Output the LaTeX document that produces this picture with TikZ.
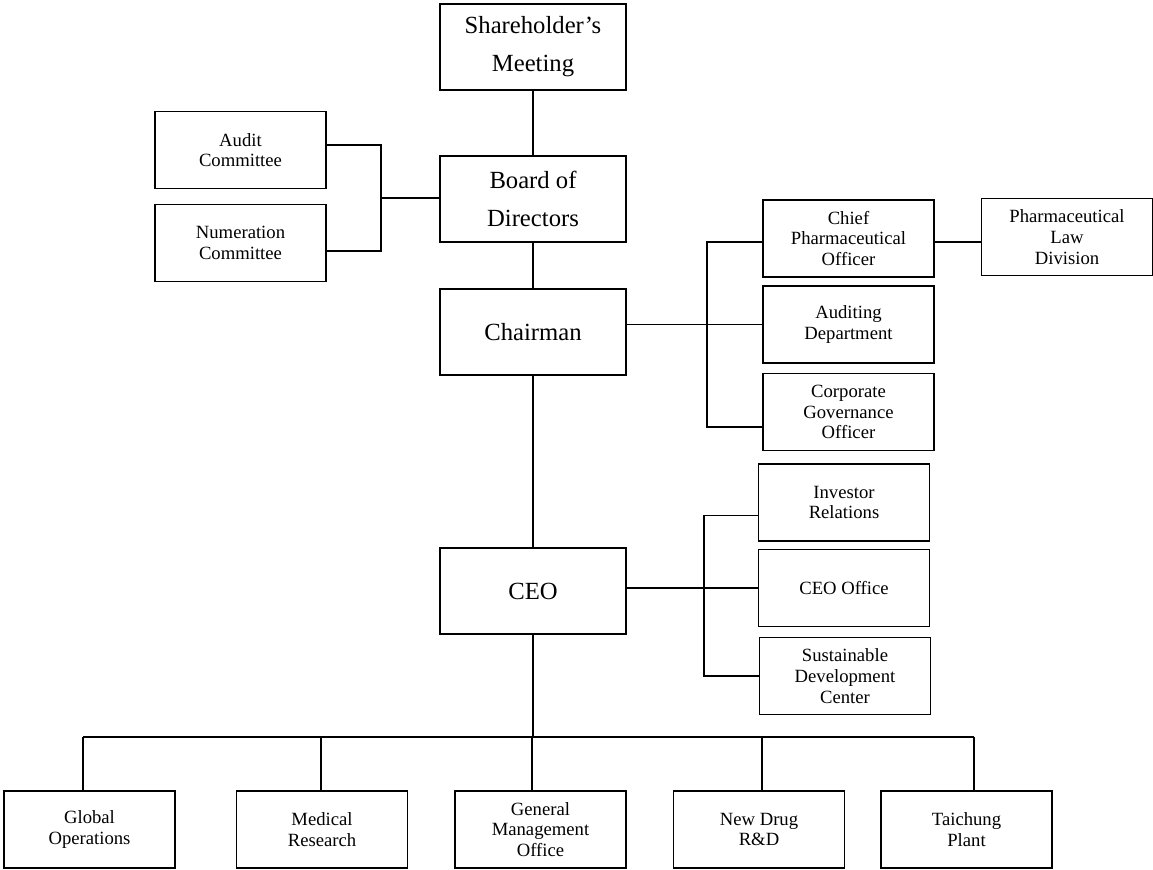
\documentclass[tikz,border=0pt]{standalone}
\usepackage{fontspec}
\setmainfont{Liberation Serif}

\begin{document}
\begin{tikzpicture}[x=0.75pt,y=-0.75pt,line width=0.9pt,
  bigbox/.style={draw,align=center,inner sep=0pt,minimum width=139.5pt,minimum height=64.5pt,font=\fontsize{18.5}{28.5}\selectfont},
  smallbox/.style={draw,align=center,inner sep=0pt,minimum width=128.25pt,minimum height=57.75pt,font=\fontsize{14}{15.5}\selectfont}]
\useasboundingbox (0,0) rectangle (1153,869);

% main line
\node [bigbox] (share) at (533,47) {Shareholder’s\\Meeting};
\node [bigbox] (board) at (533,199) {Board of\\Directors};
\node [bigbox] (chair) at (533,332) {Chairman};
\node [bigbox] (ceo) at (533,591) {CEO};

% committees
\node [smallbox] (audit) at (240.5,150) {Audit\\Committee};
\node [smallbox] (numer) at (240.5,243) {Numeration\\Committee};

% under the chairman
\node [smallbox] (cpo) at (848.5,238.5) {Chief\\Pharmaceutical\\Officer};
\node [smallbox] (aud) at (848.5,324.5) {Auditing\\Department};
\node [smallbox] (cgo) at (848.5,412) {Corporate\\Governance\\Officer};
\node [smallbox] (law) at (1067,237) {Pharmaceutical\\Law\\Division};

% under the ceo
\node [smallbox] (ir) at (844,502.5) {Investor\\Relations};
\node [smallbox] (ceooff) at (844,588) {CEO Office};
\node [smallbox] (sdc) at (845,676) {Sustainable\\Development\\Center};

% divisions
\node [smallbox] (glob) at (89.5,829.5) {Global\\Operations};
\node [smallbox] (med) at (322,829.5) {Medical\\Research};
\node [smallbox] (gmo) at (540.5,829.5) {General\\Management\\Office};
\node [smallbox] (ndrd) at (759,829.5) {New Drug\\R\&D};
\node [smallbox] (tcp) at (966.5,829.5) {Taichung\\Plant};

\draw (share) -- (board);
\draw (board) -- (chair);
\draw (chair) -- (ceo);

% left bracket
\coordinate (lb) at (381,198);
\draw ([yshift=3.75pt]audit.east) -| (lb) |- ([yshift=-6pt]numer.east);
\draw (lb) -- (lb -| board.west);

% chairman bracket
\coordinate (rb) at (707,326);
\draw ([yshift=-2.6pt]cpo.west) -| (rb) |- ([yshift=-11.25pt]cgo.west);
\draw (chair.east |- aud.west) -- (aud.west);
\draw ([yshift=-2.6pt]cpo.east) -- ([yshift=-2.6pt]cpo.east -| law.west);

% ceo bracket
\coordinate (cb) at (704,588);
\draw ([yshift=-10pt]ir.west) -| (cb) |- (sdc.west);
\draw (ceo.east |- ceooff.west) -- (ceooff.west);

% bus to the divisions
\coordinate (bus) at (533,737);
\draw (ceo) -- (bus);
\foreach \n/\dx in {glob/-4.9,med/-0.75,gmo/-6.4,ndrd/2.25,tcp/5.6}{
  \coordinate (\n-top) at ([xshift=\dx pt]\n.north);
  \draw (\n-top) -- (\n-top |- bus);
}
\draw (glob-top |- bus) -- (tcp-top |- bus);

\end{tikzpicture}
\end{document}
